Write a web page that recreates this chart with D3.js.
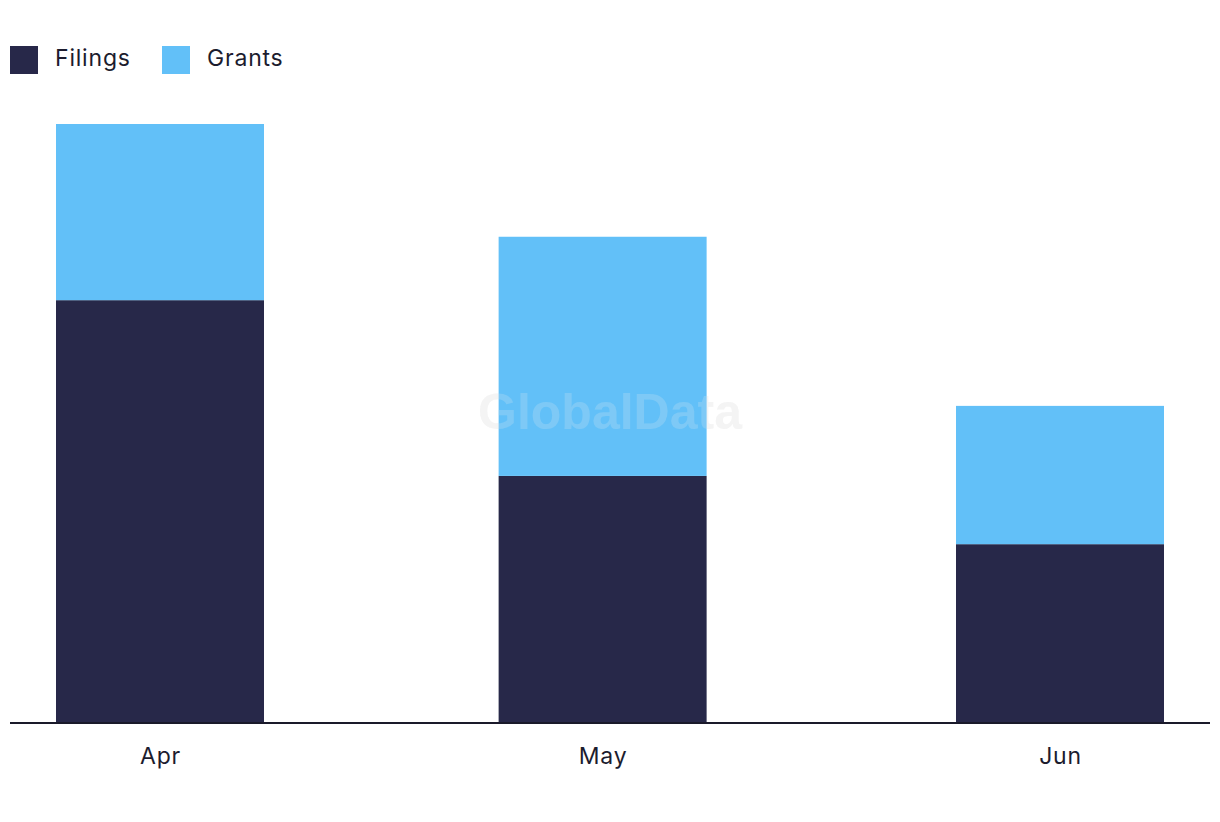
<!DOCTYPE html>
<html>
<head>
<meta charset="utf-8">
<script src="https://cdn.jsdelivr.net/npm/d3@7"></script>
<style>
  html, body { margin: 0; padding: 0; background: #ffffff; }
  svg { display: block; }
</style>
</head>
<body>
<script>
// ---- data ----
const months = ["Apr", "May", "Jun"];
const monthDates = ["2023-04-01", "2023-05-01", "2023-06-01"];
const filings = [96, 56.1, 40.6];
const grants = [40, 54.3, 31.4];
const seriesNames = ["Filings", "Grants"];
const seriesColors = ["#272849", "#62c0f8"];

const W = 1220, H = 822;
const svg = d3.select("body").append("svg").attr("width", W).attr("height", H);

const parse = d3.timeParse("%Y-%m-%d");
const dates = monthDates.map(parse);

const x = d3.scaleTime()
  .domain([dates[0], dates[2]])
  .range([160, 1060]);
const y = d3.scaleLinear()
  .domain([0, 136])
  .range([723, 124]);

const rows = months.map((m, i) => ({ month: m, date: dates[i], Filings: filings[i], Grants: grants[i] }));
const stack = d3.stack().keys(seriesNames)(rows);
const barW = 208;

// watermark
svg.append("text")
  .attr("x", 610).attr("y", 429)
  .attr("text-anchor", "middle")
  .attr("font-family", "Liberation Sans, Arial, sans-serif")
  .attr("font-weight", "bold")
  .attr("font-size", 50)
  .attr("fill", "rgb(232,232,232)")
  .attr("fill-opacity", 0.45)
  .text("GlobalData");

svg.append("g").selectAll("g")
  .data(stack)
  .join("g")
  .attr("fill", (d, i) => seriesColors[i])
  .selectAll("rect")
  .data(d => d)
  .join("rect")
  .attr("x", d => x(d.data.date) - barW / 2)
  .attr("width", barW)
  .attr("y", d => y(d[1]))
  .attr("height", d => y(d[0]) - y(d[1]));

// watermark overlay on bars (semi-transparent)
svg.append("text")
  .attr("x", 610).attr("y", 429)
  .attr("text-anchor", "middle")
  .attr("font-family", "Liberation Sans, Arial, sans-serif")
  .attr("font-weight", "bold")
  .attr("font-size", 50)
  .attr("fill", "rgb(240,240,240)")
  .attr("fill-opacity", 0.2)
  .text("GlobalData");

// x axis
const xAxis = d3.axisBottom(x)
  .tickValues(dates)
  .tickFormat((d, i) => months[i])
  .tickSize(0)
  .tickPadding(25);

const gx = svg.append("g")
  .attr("transform", "translate(0,723)")
  .call(xAxis);
gx.select(".domain").remove();
gx.selectAll("text")
  .attr("font-family", "Inter, 'Open Sans', sans-serif")
  .attr("font-size", 23)
  .attr("letter-spacing", 0.8)
  .attr("fill", "#1c1c2e");

svg.append("line")
  .attr("x1", 10).attr("x2", 1210)
  .attr("y1", 723).attr("y2", 723)
  .attr("stroke", "#1a1a2a")
  .attr("stroke-width", 2);

// legend
const legendX = [10, 162];
const lg = svg.append("g").selectAll("g")
  .data(seriesNames)
  .join("g")
  .attr("transform", (d, i) => `translate(${legendX[i]},46)`);
lg.append("rect")
  .attr("width", 28).attr("height", 28)
  .attr("fill", (d, i) => seriesColors[i]);
lg.append("text")
  .attr("x", 45).attr("y", 19.5)
  .attr("font-family", "Inter, 'Open Sans', sans-serif")
  .attr("font-size", 23)
  .attr("letter-spacing", 0.8)
  .attr("fill", "#1c1c2e")
  .text(d => d);
</script>
</body>
</html>
